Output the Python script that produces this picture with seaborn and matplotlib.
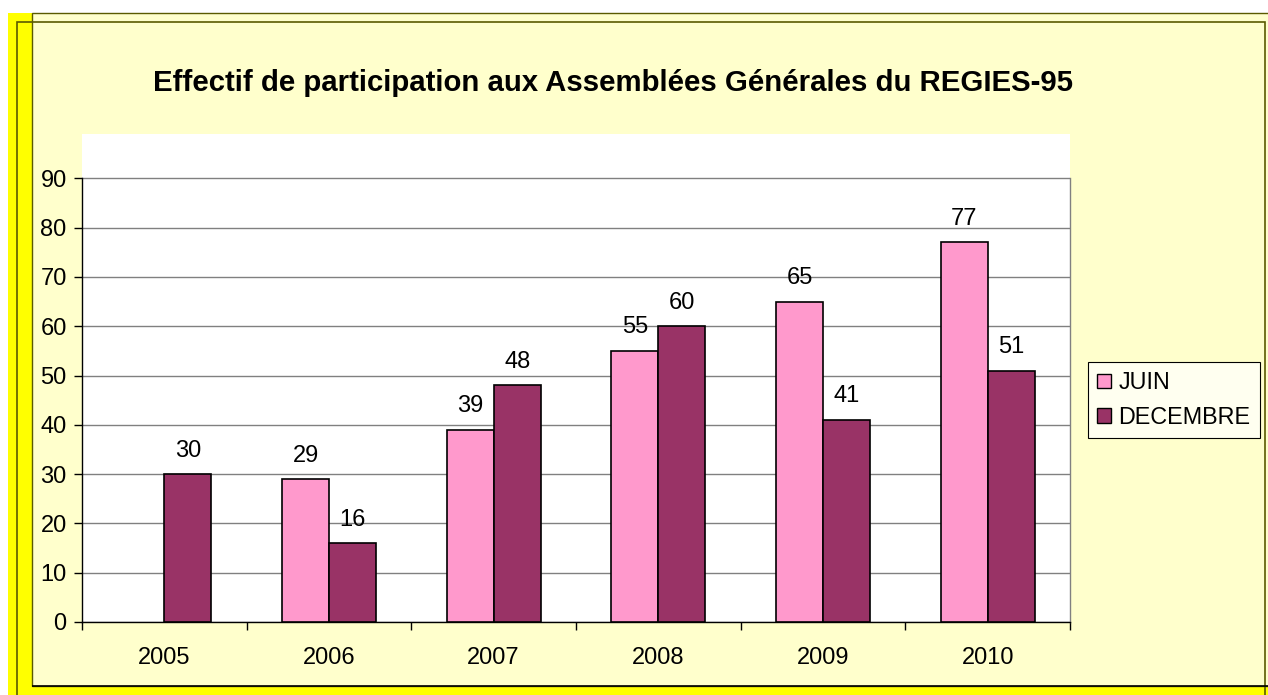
import matplotlib
matplotlib.use('Agg')
import matplotlib.pyplot as plt
from matplotlib.patches import Rectangle, Patch
import seaborn as sns
import pandas as pd
import numpy as np

# Data
years = ['2005', '2006', '2007', '2008', '2009', '2010']
juin = [np.nan, 29, 39, 55, 65, 77]
decembre = [30, 16, 48, 60, 41, 51]
series = ['JUIN', 'DECEMBRE']
colors = ['#FF99CC', '#993366']
title = 'Effectif de participation aux Assemblées Générales du REGIES-95'

df = pd.DataFrame({
    'Annee': years * 2,
    'Effectif': juin + decembre,
    'Session': ['JUIN'] * len(years) + ['DECEMBRE'] * len(years),
}).dropna()

sns.set_style('white')
plt.rcParams['font.family'] = ['Liberation Sans', 'DejaVu Sans']
plt.rcParams['text.color'] = 'black'
plt.rcParams['xtick.color'] = 'black'
plt.rcParams['ytick.color'] = 'black'

W, H = 1268, 695
fig = plt.figure(figsize=(W / 100, H / 100), dpi=100)
fig.patch.set_facecolor('white')


def box(x0, y0, x1, y1):
    # pixel box (from top-left) -> figure fraction rect
    return (x0 / W, 1 - y1 / H, (x1 - x0) / W, (y1 - y0) / H)


def add_rect(x0, y0, x1, y1, **kw):
    l, b, w, h = box(x0, y0, x1, y1)
    fig.patches.append(Rectangle((l, b), w, h, transform=fig.transFigure,
                                 zorder=-5, **kw))


# Background frame like the spreadsheet chart area
add_rect(8, 13, 1268, 695, facecolor='#FFFF00', edgecolor='none')
add_rect(32, 13, 1270, 686, facecolor='#FFFFCC', edgecolor='#5A5A00', lw=1)
add_rect(17, 22, 1265, 700, facecolor='none', edgecolor='#5A5A00', lw=1.2)
add_rect(32, 686, 1268, 686, facecolor='none', edgecolor='black', lw=1.2)

ax = fig.add_axes(box(82, 134, 1070, 622))
ax.set_facecolor('white')

sns.barplot(data=df, x='Annee', y='Effectif', hue='Session', hue_order=series,
            order=years, palette=colors, width=0.57, gap=0, saturation=1,
            edgecolor='black', linewidth=1.2, legend=False, ax=ax, zorder=3)

for c in ax.containers:
    ax.bar_label(c, fmt='%g', padding=9, fontsize=17, color='black')

ax.set_ylim(0, 99)
ax.set_yticks(range(0, 100, 10))
ax.set_xlim(-0.5, len(years) - 0.5)
ax.set_xticks(np.arange(-0.5, len(years), 1), minor=True)
ax.yaxis.grid(True, color='#808080', lw=1)
ax.set_axisbelow(True)

ax.spines['top'].set_visible(False)
ax.spines['left'].set_bounds(0, 90)
ax.spines['left'].set_color('black')
ax.spines['right'].set_bounds(0, 90)
ax.spines['right'].set_color('#808080')
ax.spines['bottom'].set_color('black')
for s in ax.spines.values():
    s.set_linewidth(1)

ax.tick_params(axis='y', left=True, direction='out', length=6, width=1,
               color='black', labelcolor='black', labelsize=17, pad=5)
ax.tick_params(axis='x', which='major', bottom=True, length=0,
               labelcolor='black', labelsize=17, pad=18)
ax.tick_params(axis='x', which='minor', bottom=True, direction='out', length=6,
               width=1, color='black')
ax.set_xlabel('')
ax.set_ylabel('')

fig.text(613 / W, 1 - 83 / H, title, ha='center', va='center',
         fontsize=21.2, weight='bold', color='black')

handles = [Patch(facecolor=col, edgecolor='black', lw=1) for col in colors]
leg = fig.legend(handles, series, loc='center',
                 bbox_to_anchor=(1174 / W, 1 - 400 / H), frameon=True,
                 fancybox=False, edgecolor='black', facecolor='#FFFFF0',
                 framealpha=1, fontsize=16.8, handlelength=0.6, handleheight=0.6,
                 handletextpad=0.3, borderpad=0.4, labelspacing=0.5)
leg.get_frame().set_linewidth(0.8)
for t in leg.get_texts():
    t.set_color('black')

fig.savefig('out.png', dpi=100)
